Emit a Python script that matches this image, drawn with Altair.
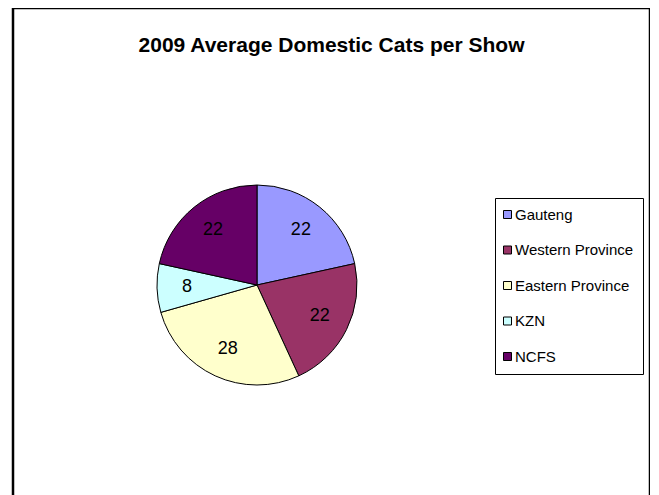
import altair as alt
import pandas as pd

regions = ["Gauteng", "Western Province", "Eastern Province", "KZN", "NCFS"]
cats = [22, 22, 28, 8, 22]
colors = ["#9999FF", "#993366", "#FFFFCC", "#CCFFFF", "#660066"]

df = pd.DataFrame({"region": regions, "cats": cats, "order": list(range(len(regions)))})

FONT = "Liberation Sans, Arial"

base = alt.Chart(df).encode(
    theta=alt.Theta("cats:Q", stack=True),
    order=alt.Order("order:Q"),
)

pie = base.mark_arc(outerRadius=100, stroke="black", strokeWidth=1).encode(
    x=alt.value(244),
    y=alt.value(277),
    color=alt.Color(
        "region:N",
        scale=alt.Scale(domain=regions, range=colors),
        sort=regions,
        legend=alt.Legend(
            title=None,
            orient="none",
            legendX=482,
            legendY=190,
            strokeColor="black",
            padding=9,
            symbolType="square",
            symbolSize=64,
            symbolStrokeColor="black",
            symbolStrokeWidth=1,
            symbolOffset=-4,
            labelOffset=0,
            labelFont=FONT,
            labelFontSize=15,
            labelColor="black",
            rowPadding=19.5,
            fillColor="white",
        ),
    ),
)

labels = base.mark_text(radius=70, font=FONT, fontSize=18, color="black").encode(
    x=alt.value(244),
    y=alt.value(277),
    text="cats:Q",
)

chart = (
    alt.layer(pie, labels)
    .properties(
        width=637,
        height=520,
        background="white",
        padding={"left": 5, "top": 0, "right": 0, "bottom": 0},
        autosize=alt.AutoSizeParams(type="none"),
        title=alt.Title(
            "2009 Average Domestic Cats per Show",
            font=FONT,
            fontSize=21,
            fontWeight="bold",
            color="black",
            anchor="middle",
            offset=-65,
            baseline="alphabetic",
        ),
    )
    .configure_view(stroke="black", strokeWidth=2.5)
)

chart.save("out.html", embed_options={"renderer": "svg", "actions": False})
